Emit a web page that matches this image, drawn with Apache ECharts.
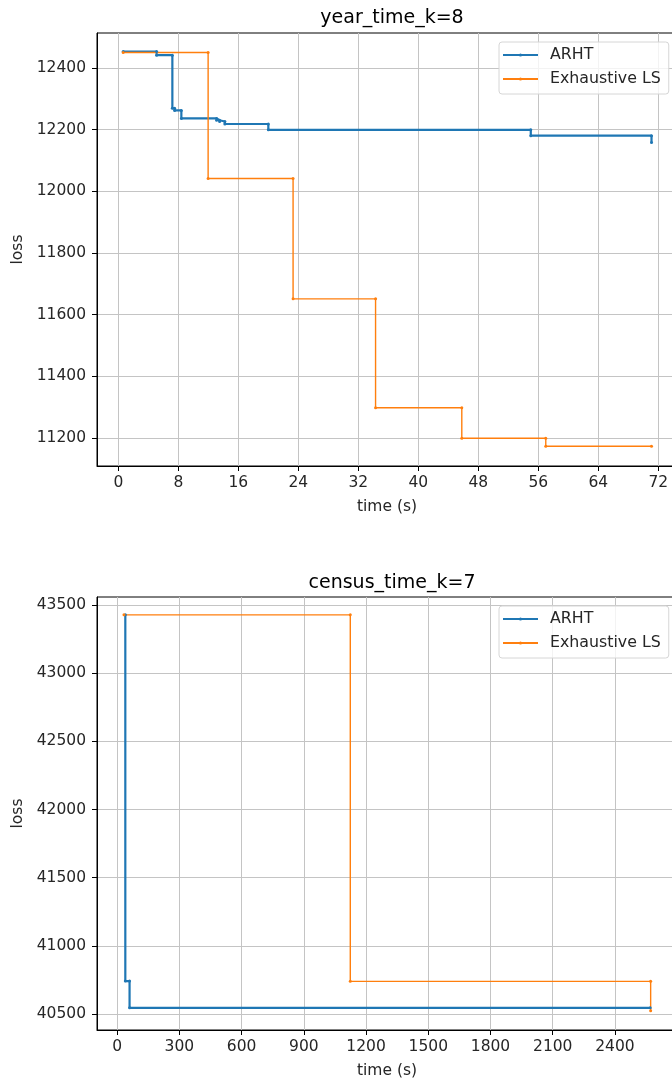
<!DOCTYPE html>
<html>
<head>
<meta charset="utf-8">
<script src="https://cdn.jsdelivr.net/npm/echarts@6/dist/echarts.min.js"></script>
<style>
  html, body { margin: 0; padding: 0; background: #fff; overflow: hidden; }
  #chart { width: 680px; height: 1082px; }
</style>
</head>
<body>
<div id="chart"></div>
<script>
// year dataset, k = 8 : loss over wall-clock time (step traces, corner points included)
const yearArhtTime = [0.64, 5.1, 5.1, 7.2, 7.2, 7.5, 7.5, 8.4, 8.4, 13.1, 13.1, 13.5, 13.5, 14.2, 14.2, 20.0, 20.0, 55.0, 55.0, 71.1, 71.1];
const yearArhtLoss = [12453, 12453, 12441, 12441, 12269, 12269, 12262, 12262, 12236, 12236, 12230, 12230, 12226, 12226, 12218, 12218, 12199, 12199, 12180, 12180, 12158];
const yearLsTime = [0.64, 11.97, 11.97, 23.3, 23.3, 34.3, 34.3, 45.8, 45.8, 57.0, 57.0, 71.1];
const yearLsLoss = [12450, 12450, 12041, 12041, 11651, 11651, 11298, 11298, 11199, 11199, 11173, 11173];

// census dataset, k = 7
const censusArhtTime = [39.5, 39.5, 60, 60, 2570];
const censusArhtLoss = [43428, 40742, 40742, 40546, 40546];
const censusLsTime = [33, 1124, 1124, 2572, 2572];
const censusLsLoss = [43428, 43428, 40740, 40740, 40525];

// tick labels
const yearXTicks = [0, 8, 16, 24, 32, 40, 48, 56, 64, 72];
const yearYTicks = [11200, 11400, 11600, 11800, 12000, 12200, 12400];
const censusXTicks = [0, 300, 600, 900, 1200, 1500, 1800, 2100, 2400];
const censusYTicks = [40500, 41000, 41500, 42000, 42500, 43000, 43500];

const seriesNames = ['ARHT', 'Exhaustive LS'];
const BLUE = '#1f77b4';
const ORANGE = '#ff7f0e';
const FONT = 'DejaVu Sans';
const TEXT = '#262626';

const pairs = (xs, ys) => xs.map((x, i) => [x, ys[i]]);
const plain = v => String(v);

const chart = echarts.init(document.getElementById('chart'), null, { renderer: 'canvas' });

function xAxis(gridIndex, min, max, ticks) {
  return {
    type: 'value', gridIndex, min, max,
    name: 'time (s)', nameLocation: 'middle', nameGap: 33,
    nameTextStyle: { fontFamily: FONT, fontSize: 15.5, color: TEXT },
    axisLine: { show: true, onZero: false, lineStyle: { color: '#000', width: 1 } },
    axisTick: { show: true, length: 5, customValues: ticks, lineStyle: { color: '#000', width: 1 } },
    axisLabel: { customValues: ticks, formatter: plain, margin: 9, fontFamily: FONT, fontSize: 15.5, color: TEXT },
    splitLine: { show: true, lineStyle: { color: '#c4c4c4', width: 1 } }
  };
}
function yAxis(gridIndex, min, max, ticks) {
  return {
    type: 'value', gridIndex, min, max,
    name: 'loss', nameLocation: 'middle', nameGap: 70, nameRotate: 90,
    nameTextStyle: { fontFamily: FONT, fontSize: 15.5, color: TEXT },
    axisLine: { show: true, onZero: false, lineStyle: { color: '#000', width: 1 } },
    axisTick: { show: true, length: 5, customValues: ticks, lineStyle: { color: '#000', width: 1 } },
    axisLabel: { customValues: ticks, formatter: plain, margin: 11, fontFamily: FONT, fontSize: 15.5, color: TEXT },
    splitLine: { show: true, lineStyle: { color: '#c4c4c4', width: 1 } }
  };
}
function series(name, gridIndex, data, color, width) {
  return {
    name, type: 'line', xAxisIndex: gridIndex, yAxisIndex: gridIndex,
    data, symbol: 'circle', symbolSize: 3, showSymbol: true,
    lineStyle: { color, width }, itemStyle: { color },
    emphasis: { disabled: true }, animation: false
  };
}
function legend(top) {
  return {
    data: seriesNames, orient: 'vertical', left: 499, top,
    backgroundColor: 'rgba(255,255,255,0.8)', borderColor: '#d6d6d6', borderWidth: 1, borderRadius: 3,
    padding: [5, 8, 7, 3], itemGap: 8, itemWidth: 35, itemHeight: 4,
    textStyle: { fontFamily: FONT, fontSize: 15.8, color: TEXT, padding: [0, 0, 0, 7] },
    selectedMode: false
  };
}

chart.setOption({
  backgroundColor: '#fff',
  animation: false,
  title: [
    { text: 'year_time_k=8', left: 387, top: 4, textAlign: 'center',
      textStyle: { fontFamily: FONT, fontSize: 19, fontWeight: 'normal', color: '#000' } },
    { text: 'census_time_k=7', left: 387, top: 569, textAlign: 'center',
      textStyle: { fontFamily: FONT, fontSize: 19, fontWeight: 'normal', color: '#000' } }
  ],
  grid: [
    { left: 97, right: 3, top: 33, height: 433, show: true, borderColor: '#000', borderWidth: 1, containLabel: false },
    { left: 97, right: 3, top: 597, height: 433, show: true, borderColor: '#000', borderWidth: 1, containLabel: false }
  ],
  legend: [legend(42), legend(606)],
  xAxis: [xAxis(0, -2.85, 74.5, yearXTicks), xAxis(1, -97, 2699, censusXTicks)],
  yAxis: [yAxis(0, 11109, 12513, yearYTicks), yAxis(1, 40383, 43559, censusYTicks)],
  series: [
    series('ARHT', 0, pairs(yearArhtTime, yearArhtLoss), BLUE, 2.2),
    series('Exhaustive LS', 0, pairs(yearLsTime, yearLsLoss), ORANGE, 1.4),
    series('ARHT', 1, pairs(censusArhtTime, censusArhtLoss), BLUE, 2.2),
    series('Exhaustive LS', 1, pairs(censusLsTime, censusLsLoss), ORANGE, 1.4)
  ]
});
</script>
</body>
</html>
